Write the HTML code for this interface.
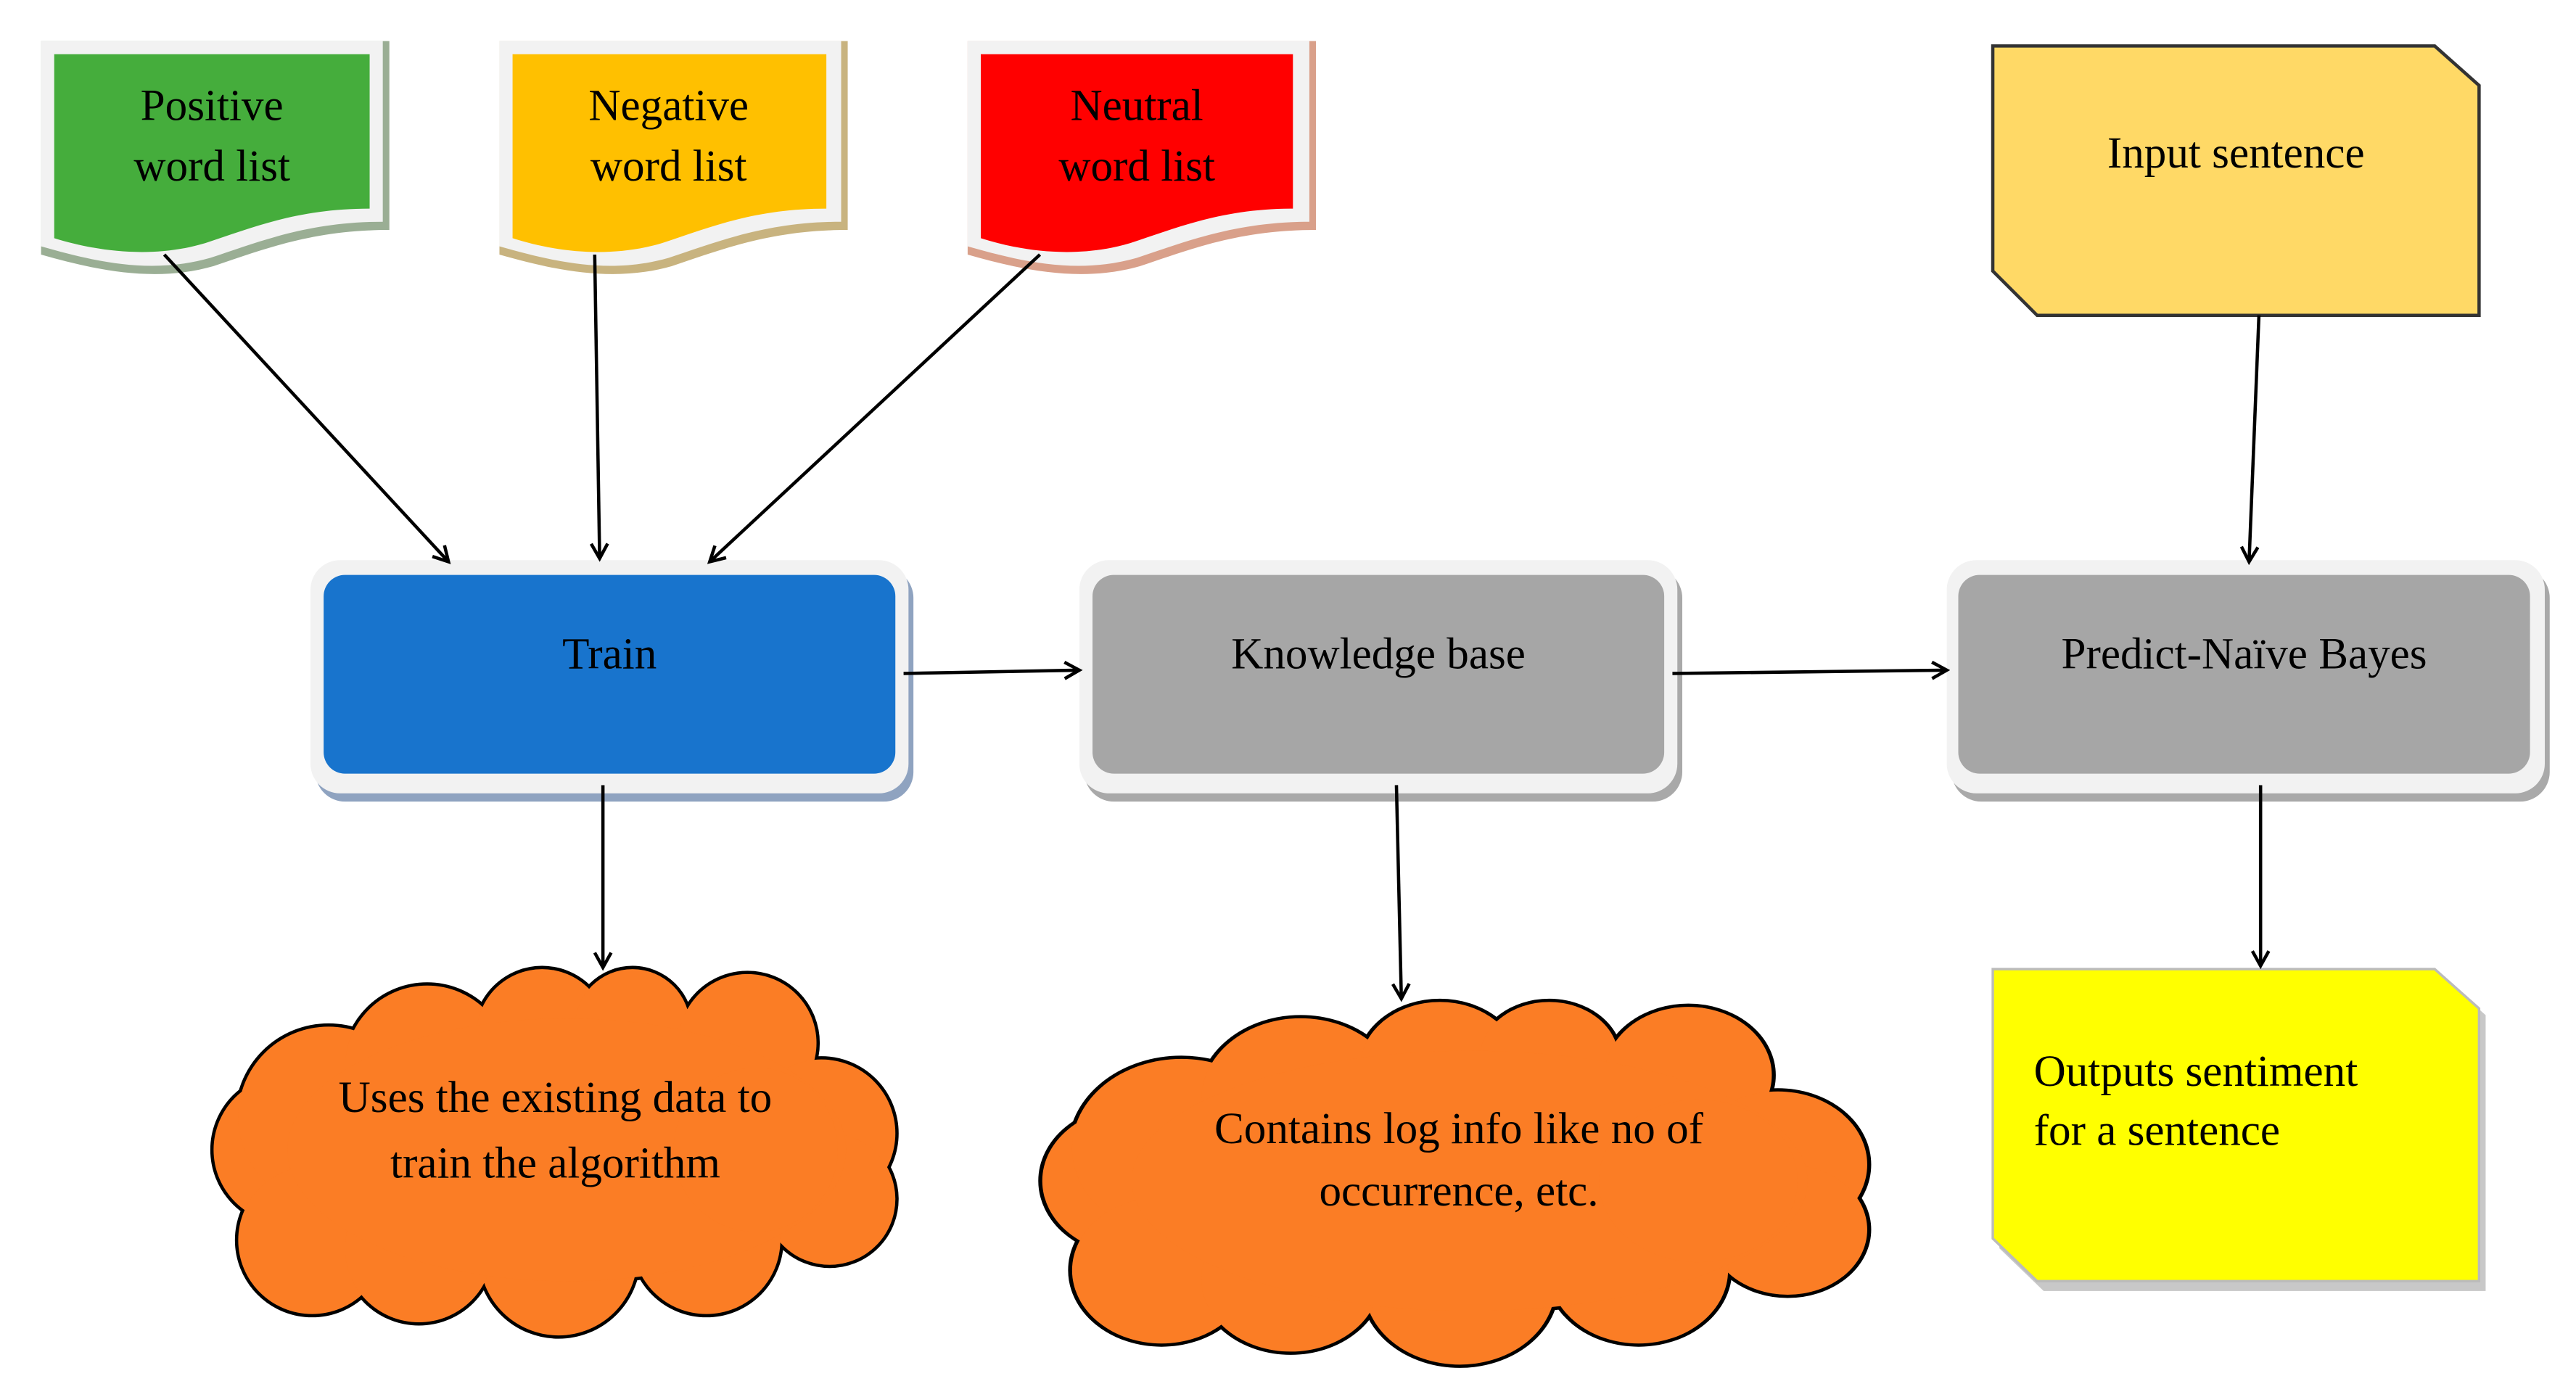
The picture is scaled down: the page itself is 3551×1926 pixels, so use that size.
<!DOCTYPE html>
<html><head><meta charset="utf-8"><style>
html,body{margin:0;padding:0;background:#fff}
svg{display:block}
text{font-family:"Liberation Serif",serif;fill:#000}
</style></head><body>
<svg width="3551" height="1926" viewBox="0 0 1568 850.5" preserveAspectRatio="none" xmlns="http://www.w3.org/2000/svg">
<defs>
<marker id="ar" markerWidth="12" markerHeight="12" refX="10" refY="6" orient="auto" markerUnits="userSpaceOnUse">
<path d="M1,1 L10,6 L1,11" fill="none" stroke="#000" stroke-width="2"/>
</marker>
<g id="cloudS">
<circle cx="175" cy="700" r="45"/><circle cx="200" cy="680" r="55"/><circle cx="190" cy="755" r="45"/>
<circle cx="260" cy="650" r="50"/><circle cx="330" cy="630" r="40"/><circle cx="385" cy="625" r="35"/>
<circle cx="455" cy="635" r="42"/><circle cx="500" cy="690" r="45"/><circle cx="505" cy="730" r="40"/>
<circle cx="430" cy="755" r="45"/><circle cx="340" cy="765" r="48"/><circle cx="255" cy="760" r="45"/>
<circle cx="350" cy="700" r="80"/>
<ellipse cx="345" cy="700" rx="170" ry="80"/>
<circle cx="460" cy="700" r="50"/>
</g>
<g id="cloud">
<use href="#cloudS" fill="#000" stroke="#000" stroke-width="4"/>
<use href="#cloudS" fill="#FB7D25"/>
</g>
</defs>

<g>
<path d="M25,25 H237 V140 C190,140 160,152 130,162 C95,172 60,165 25,155 Z" fill="#9aae94"/>
<path d="M25,25 H233 V135 C188,135 158,147 128,157 C93,167 60,160 25,150 Z" fill="#f2f2f2"/>
<path d="M33,33 H225 V127 C182,127 155,138 125,148 C95,157 62,154 33,145 Z" fill="#45AD3C"/>
<text x="129" y="73" font-size="27" text-anchor="middle">Positive</text>
<text x="129" y="110" font-size="27" text-anchor="middle">word list</text>
</g>
<g>
<path d="M304,25 H516 V140 C469,140 439,152 409,162 C374,172 339,165 304,155 Z" fill="#c8b37f"/>
<path d="M304,25 H512 V135 C467,135 437,147 407,157 C372,167 339,160 304,150 Z" fill="#f2f2f2"/>
<path d="M312,33 H503 V127 C460,127 433,138 403,148 C373,157 340,154 312,145 Z" fill="#FFC000"/>
<text x="407" y="73" font-size="27" text-anchor="middle">Negative</text>
<text x="407" y="110" font-size="27" text-anchor="middle">word list</text>
</g>
<g>
<path d="M589,25 H801 V140 C754,140 724,152 694,162 C659,172 624,165 589,155 Z" fill="#d9a08a"/>
<path d="M589,25 H797 V135 C752,135 722,147 692,157 C657,167 624,160 589,150 Z" fill="#f2f2f2"/>
<path d="M597,33 H787 V127 C745,127 718,138 688,148 C658,157 625,154 597,145 Z" fill="#FF0000"/>
<text x="692" y="73" font-size="27" text-anchor="middle">Neutral</text>
<text x="692" y="110" font-size="27" text-anchor="middle">word list</text>
</g>

<g>
<rect x="192" y="346" width="364" height="142" rx="18" fill="#8fa3c0"/>
<rect x="189" y="341" width="364" height="142" rx="18" fill="#f2f2f2"/>
<rect x="197" y="350" width="348" height="121" rx="13" fill="#1874CD"/>
<text x="371" y="407" font-size="27" text-anchor="middle">Train</text>
</g>
<g>
<rect x="660" y="346" width="364" height="142" rx="18" fill="#a9a9a9"/>
<rect x="657" y="341" width="364" height="142" rx="18" fill="#f2f2f2"/>
<rect x="665" y="350" width="348" height="121" rx="13" fill="#A6A6A6"/>
<text x="839" y="407" font-size="27" text-anchor="middle">Knowledge base</text>
</g>
<g>
<rect x="1188" y="346" width="364" height="142" rx="18" fill="#a9a9a9"/>
<rect x="1185" y="341" width="364" height="142" rx="18" fill="#f2f2f2"/>
<rect x="1192" y="350" width="348" height="121" rx="13" fill="#A6A6A6"/>
<text x="1366" y="407" font-size="27" text-anchor="middle">Predict-Naïve Bayes</text>
</g>

<path d="M1213,28 H1482 L1509,52 V192 H1240 L1213,165 Z" fill="#FFD966" stroke="#333" stroke-width="2"/>
<text x="1361" y="102" font-size="27" text-anchor="middle">Input sentence</text>

<path d="M1217,594 H1486 L1513,618 V786 H1244 L1217,760 Z" fill="#c8c8c8"/>
<path d="M1213,590 H1482 L1509,614 V780 H1240 L1213,754 Z" fill="#FFFF00" stroke="#bbb" stroke-width="1.5"/>
<text x="1238" y="661" font-size="27">Outputs sentiment</text>
<text x="1238" y="697" font-size="27">for a sentence</text>

<use href="#cloud"/>
<use href="#cloud" transform="translate(632,612) scale(1.21,0.99) translate(-128,-592)"/>
<text x="338" y="677" font-size="27" text-anchor="middle">Uses the existing data to</text>
<text x="338" y="717" font-size="27" text-anchor="middle">train the algorithm</text>
<text x="888" y="696" font-size="27" text-anchor="middle">Contains log info like no of</text>
<text x="888" y="734" font-size="27" text-anchor="middle">occurrence, etc.</text>

<g stroke="#000" stroke-width="2" fill="none" marker-end="url(#ar)">
<line x1="100" y1="155" x2="273" y2="342"/>
<line x1="362" y1="155" x2="365" y2="340"/>
<line x1="633" y1="155" x2="432" y2="342"/>
<line x1="1375" y1="192" x2="1369" y2="342"/>
<line x1="550" y1="410" x2="657" y2="408"/>
<line x1="1018" y1="410" x2="1185" y2="408"/>
<line x1="367" y1="478" x2="367" y2="589"/>
<line x1="850" y1="478" x2="853" y2="608"/>
<line x1="1376" y1="478" x2="1376" y2="588"/>
</g>
</svg>
</body></html>
